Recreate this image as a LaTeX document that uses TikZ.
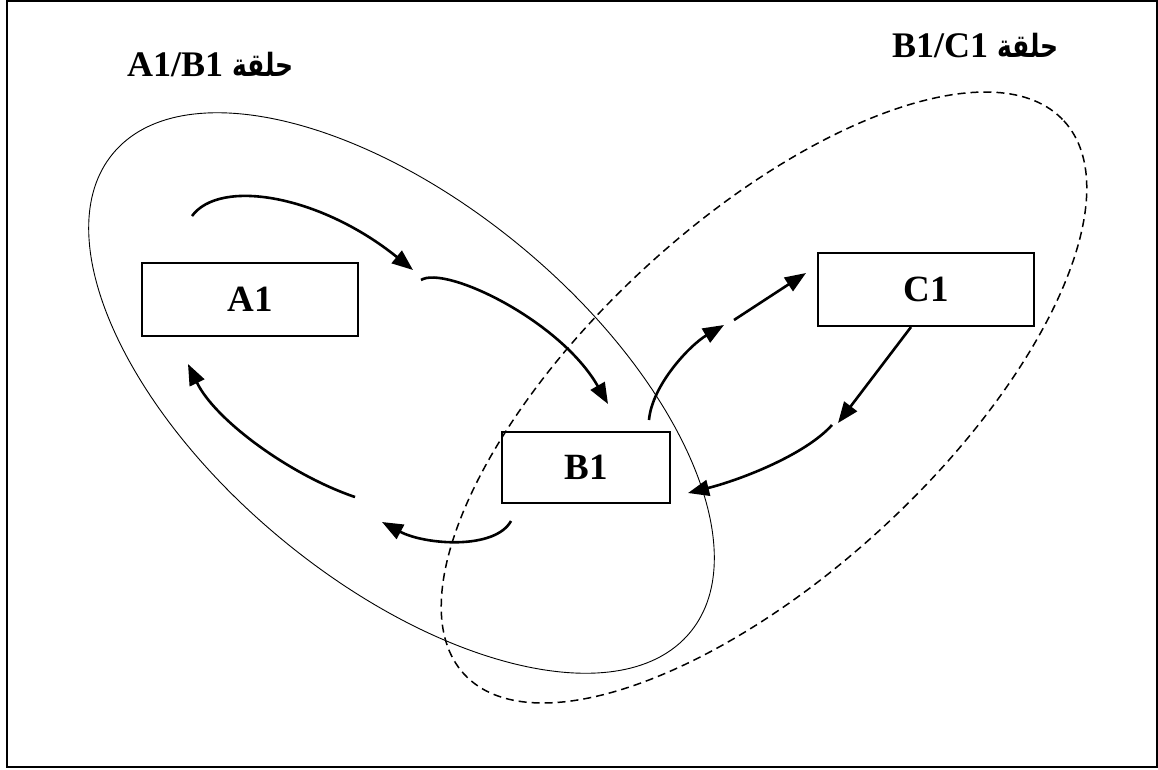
\documentclass[tikz,border=0pt]{standalone}
\usepackage{fontspec}
\usepackage{graphicx}
\setmainfont{Liberation Serif}
\newfontfamily\arabicfont[Script=Arabic]{DejaVu Sans}
\TeXXeTstate=1
\usetikzlibrary{arrows.meta}
\newcommand{\halqa}{\scalebox{0.78}[1]{\arabicfont\fontsize{32}{40}\selectfont\bfseries\beginR حلقة\endR}}
\begin{document}
\begin{tikzpicture}[x=1pt,y=-1pt,
  box/.style={draw, line width=2pt, inner sep=0pt,
    font=\fontsize{37}{40}\selectfont\bfseries},
  flow/.style={line width=2.6pt, -{Triangle[length=21pt,width=16pt]}},
  loopA/.style={line width=0.9pt},
  loopB/.style={line width=1.5pt, dash pattern=on 8pt off 5pt},
  tag/.style={anchor=base west, inner sep=0pt,
    font=\fontsize{36}{40}\selectfont\bfseries}]
\useasboundingbox (0,0) rectangle (1158,769);

% outer frame
\draw[line width=1.6pt] (7,0.8) rectangle (1157,767);

% the two loops
\draw[loopA, shift={(401.5,393)}, rotate=-39.7] (0,0) ellipse (375 and 189);
\draw[loopB, shift={(764,397.5)}, rotate=42.7] (0,0) ellipse (408 and 176);

% loop titles
\node[tag] (tA) at (127,76) {A1/B1 \halqa};
\node[tag] (tB) at (892,57) {B1/C1 \halqa};

% boxes
\node[box, minimum width=216pt, minimum height=73pt] (A1) at (250,299.5) {A1};
\node[box, minimum width=168pt, minimum height=71pt] (B1) at (586,467.5) {B1};
\node[box, minimum width=216pt, minimum height=73pt] (C1) at (926,289.5) {C1};

% arrow end points
\coordinate (p1s) at (192,216);  \coordinate (p1e) at (413,270);
\coordinate (p2s) at (421,280);  \coordinate (p2e) at (608,404);
\coordinate (p3s) at (355,497);  \coordinate (p3e) at (188,364);
\coordinate (p4s) at (511,521);  \coordinate (p4e) at (382,522);
\coordinate (p5s) at (649,420);  \coordinate (p5e) at (724,325);
\coordinate (p6s) at (734,320);  \coordinate (p6e) at (806,273);
\coordinate (p7s) at (911,327);  \coordinate (p7e) at (838,423);
\coordinate (p8s) at (832,425);  \coordinate (p8e) at (688,493);

% A1/B1 cycle
\draw[flow] (p1s) .. controls (220,178) and (320,195) .. (p1e);
\draw[flow] (p2s) .. controls (445,265) and (560,320) .. (p2e);
\draw[flow] (p4s) .. controls (495,550) and (425,545) .. (p4e);
\draw[flow] (p3s) .. controls (290,475) and (215,420) .. (p3e);

% B1/C1 cycle
\draw[flow] (p5s) .. controls (652,385) and (690,345) .. (p5e);
\draw[flow] (p6s) -- (p6e);
\draw[flow] (p7s) -- (p7e);
\draw[flow] (p8s) .. controls (805,455) and (740,480) .. (p8e);
\end{tikzpicture}
\end{document}
